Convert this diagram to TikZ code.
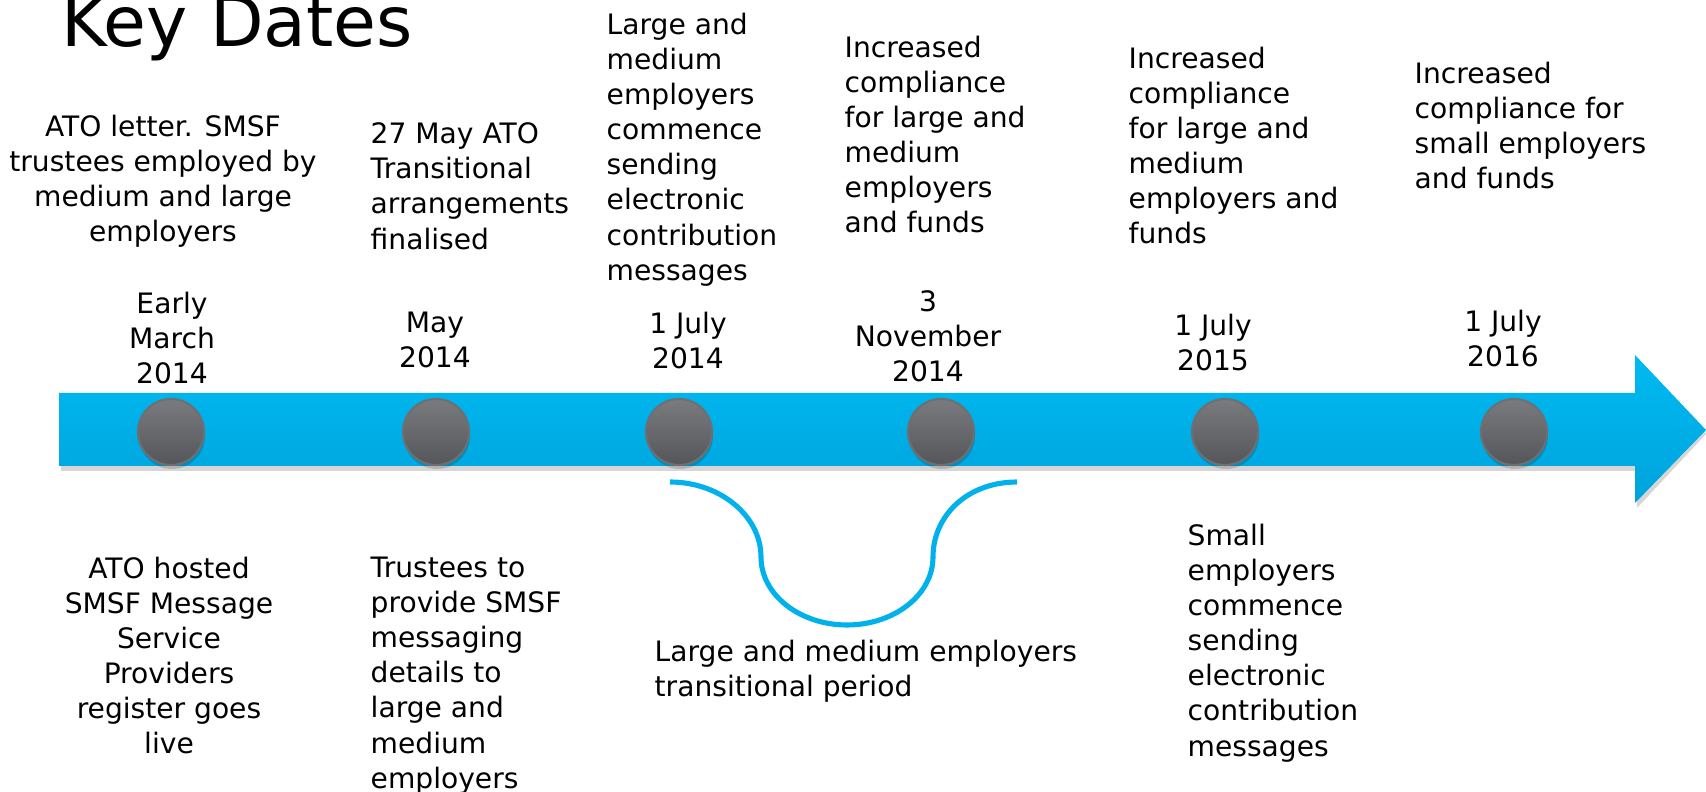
\documentclass[tikz,border=0pt]{standalone}
\usepackage{fontspec}
\setmainfont{DejaVu Sans}
\usetikzlibrary{positioning}
\definecolor{bandtop}{HTML}{00BAF2}
\definecolor{bandbot}{HTML}{00A3DB}
\definecolor{dottop}{HTML}{7A7B7E}
\definecolor{dotbot}{HTML}{55565A}
\definecolor{dotrim}{HTML}{6E6F72}
\definecolor{spanline}{HTML}{00B1EB}
\tikzset{%
        note/.style = {inner sep=0pt, align=left, anchor=north west,
                       font=\fontsize{8}{10}\selectfont},
        when/.style = {inner sep=0pt, align=center, anchor=north,
                       font=\fontsize{8}{10}\selectfont},
        dropshade/.style = {fill=black, opacity=0.16}
}
\tikzstyle{milestone}=[
    circle,
    minimum size = 0.66cm,
    inner sep = 0pt,
    top color = dottop,
    bottom color = dotbot,
    draw = dotrim,
    line width = 0.6pt
]

\begin{document}
\begin{tikzpicture}[x=0.01cm, y=-0.01cm]
        \useasboundingbox (0,0) rectangle (1706,792);
        \node[inner sep=0pt, anchor=base west, font=\fontsize{19.8}{22}\selectfont] (title) at (61,47) {Key Dates};

        % time band with arrow head
        \fill[dropshade] (61,398) -- (1637,398) -- (1637,360) -- (1706,434) -- (1637,508)
              -- (1637,471) -- (61,471) -- cycle;
        \shade[top color=bandtop, bottom color=bandbot] (59,393) -- (1635,393) -- (1635,355)
              -- (1706,430) -- (1635,503) -- (1635,466) -- (59,466) -- cycle;

        % milestones
        \foreach \x in {171, 436, 679, 941, 1225, 1514}
            \fill[dropshade] (\x+1,436) circle (33);
        \node[milestone] (m1) at (171,432) {};
        \node[milestone] (m2) at (436,432) {};
        \node[milestone] (m3) at (679,432) {};
        \node[milestone] (m4) at (941,432) {};
        \node[milestone] (m5) at (1225,432) {};
        \node[milestone] (m6) at (1514,432) {};

        % dates
        \node[when] (d1) at (172,291) {Early\\March\\2014};
        \node[when] (d2) at (435,311) {May\\2014};
        \node[when] (d3) at (688,311) {1 July\\2014};
        \node[when] (d4) at (928,290) {3\\November\\2014};
        \node[when] (d5) at (1213,313) {1 July\\2015};
        \node[when] (d6) at (1503,309) {1 July\\2016};

        % events above the band
        \node[when] (t1) at (163,114) {ATO letter. SMSF\\trustees employed by\\medium and large\\employers};
        \node[note] (t2) at (370,122) {27 May ATO\\Transitional\\arrangements\\finalised};
        \node[note] (t3) at (606,12) {Large and\\medium\\employers\\commence\\sending\\electronic\\contribution\\messages};
        \node[note] (t4) at (844,35) {Increased\\compliance\\for large and\\medium\\employers\\and funds};
        \node[note] (t5) at (1128,46) {Increased\\compliance\\for large and\\medium\\employers and\\funds};
        \node[note] (t6) at (1414,61) {Increased\\compliance for\\small employers\\and funds};

        % events below the band
        \node[when] (b1) at (169,556) {ATO hosted\\SMSF Message\\Service\\Providers\\register goes\\live};
        \node[note] (b2) at (370,556) {Trustees to\\provide SMSF\\messaging\\details to\\large and\\medium\\employers};
        \node[note] (b5) at (1187,523) {Small\\employers\\commence\\sending\\electronic\\contribution\\messages};

        % transitional period
        \coordinate (s1) at (670,482);
        \coordinate (s2) at (761,557);
        \coordinate (s3) at (847,625);
        \coordinate (s4) at (933,557);
        \coordinate (s5) at (1017,482);
        \draw[spanline, line width=1.45pt] (s1) .. controls (720,482) and (761,516) .. (s2)
              .. controls (761,595) and (800,625) .. (s3)
              .. controls (894,625) and (933,595) .. (s4)
              .. controls (933,516) and (967,482) .. (s5);
        \node[note] (span) at (654,639) {Large and medium employers\\transitional period};
\end{tikzpicture}
\end{document}
